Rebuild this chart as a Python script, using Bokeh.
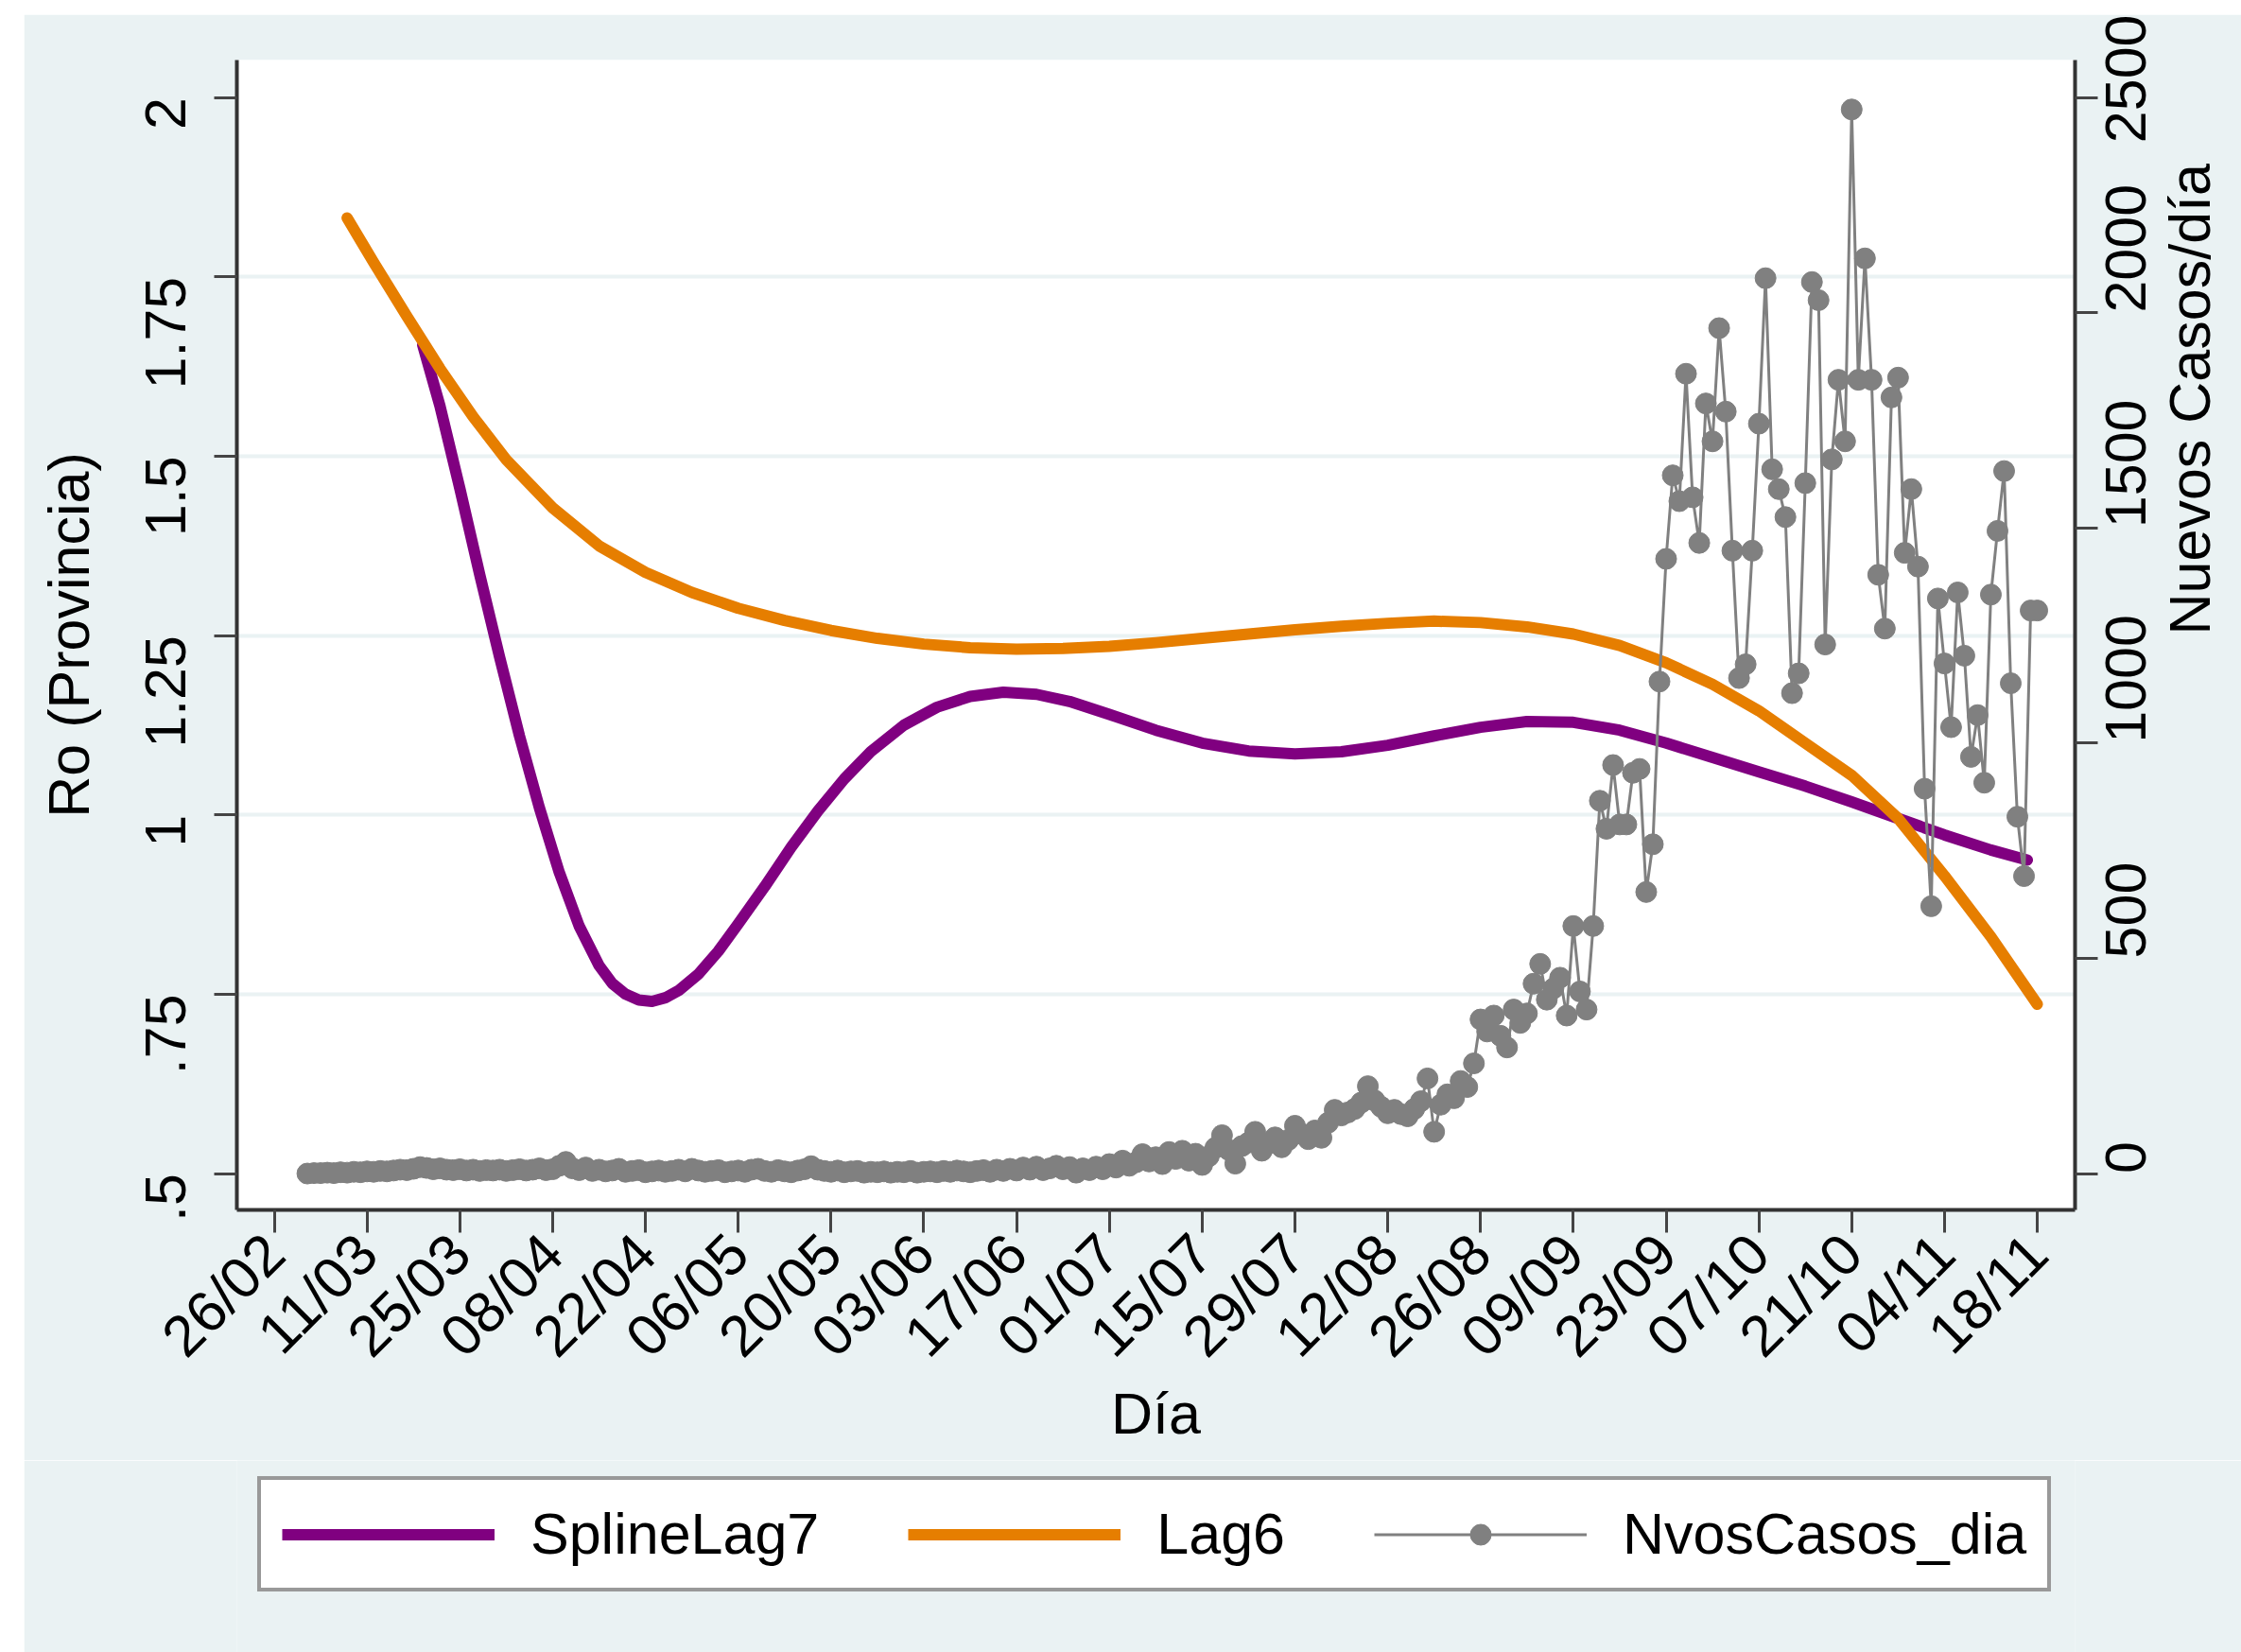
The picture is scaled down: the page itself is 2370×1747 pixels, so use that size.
import math
from bokeh.plotting import figure
from bokeh.models import (Range1d, LinearAxis, FixedTicker, Legend, LegendItem)
from bokeh.layouts import column
from bokeh.embed import file_html
from bokeh.resources import INLINE

# ---------------- data ----------------
# x axis: days since 26/02 (2020)
tick_days = [0, 14, 28, 42, 56, 70, 84, 98, 112, 126, 140, 154, 168, 182, 196, 210, 224, 238, 252, 266]
tick_labels = ["26/02", "11/03", "25/03", "08/04", "22/04", "06/05", "20/05", "03/06", "17/06", "01/07",
               "15/07", "29/07", "12/08", "26/08", "09/09", "23/09", "07/10", "21/10", "04/11", "18/11"]

r_ticks = [0.5, 0.75, 1.0, 1.25, 1.5, 1.75, 2.0]
r_tick_labels = [".5", ".75", "1", "1.25", "1.5", "1.75", "2"]
r_grid = [0.75, 1.0, 1.25, 1.5, 1.75]
casos_ticks = [0, 500, 1000, 1500, 2000, 2500]
casos_tick_labels = ["0", "500", "1000", "1500", "2000", "2500"]
right_title = "Nuevos Casos/día"

spline_days = [22.4, 25, 28, 31, 34, 37, 40, 43, 46, 49, 51, 53, 55, 57, 59, 61, 64, 67, 70, 74, 78, 82,
               86, 90, 95, 100, 105, 110, 115, 120, 126, 133, 140, 147, 154, 161, 168, 175, 182, 189,
               196, 203, 210, 217, 224, 231, 238, 245, 252, 259, 264.5]
spline_lag7 = [1.655, 1.570, 1.455, 1.335, 1.220, 1.110, 1.010, 0.920, 0.845, 0.790, 0.765, 0.750, 0.742,
               0.740, 0.745, 0.755, 0.778, 0.810, 0.848, 0.900, 0.955, 1.005, 1.050, 1.088, 1.125, 1.150,
               1.165, 1.171, 1.168, 1.158, 1.140, 1.118, 1.100, 1.089, 1.085, 1.088, 1.097, 1.110, 1.122,
               1.130, 1.129, 1.118, 1.100, 1.080, 1.060, 1.040, 1.018, 0.995, 0.972, 0.951, 0.937]

lag6_days = [11, 15, 20, 25, 30, 35, 42, 49, 56, 63, 70, 77, 84, 91, 98, 105, 112, 119, 126, 133, 140,
             147, 154, 161, 168, 175, 182, 189, 196, 203, 210, 217, 224, 231, 238, 245, 252, 259, 266]
lag6 = [1.832, 1.770, 1.695, 1.622, 1.555, 1.495, 1.428, 1.375, 1.338, 1.310, 1.288, 1.271, 1.257, 1.246,
        1.238, 1.233, 1.231, 1.232, 1.235, 1.240, 1.246, 1.252, 1.258, 1.263, 1.267, 1.270, 1.268, 1.262,
        1.252, 1.236, 1.212, 1.182, 1.145, 1.100, 1.055, 0.995, 0.915, 0.830, 0.736]

casos_first_day = 5
nvos_casos = [
    0, 1, 1, 2, 1, 3, 2, 4, 3, 5,
    4, 6, 5, 7, 9, 8, 11, 15, 13, 10,
    12, 9, 8, 10, 7, 9, 6, 8, 7, 9,
    6, 8, 10, 7, 9, 12, 8, 10, 18, 27,
    12, 8, 14, 6, 9, 5, 7, 11, 4, 6,
    8, 3, 5, 7, 4, 6, 9, 5, 11, 7,
    4, 6, 8, 3, 5, 7, 4, 9, 11, 6,
    4, 8, 5, 3, 7, 10, 17, 9, 6, 4,
    7, 3, 5, 6, 2, 4, 3, 5, 2, 4,
    3, 6, 2, 4, 5, 3, 6, 4, 7, 5,
    3, 6, 8, 4, 9, 6, 11, 7, 14, 9,
    16, 8, 12, 18, 10, 15, 2, 12, 8, 16,
    10, 22, 14, 30, 18, 26, 45, 28, 38, 22,
    50, 34, 53, 30, 46, 20, 40, 60, 89, 55,
    23, 64, 72, 97, 53, 70, 84, 61, 78, 111,
    92, 80, 100, 83, 118, 148, 135, 142, 150, 165,
    203, 170, 155, 140, 148, 138, 133, 150, 168, 221,
    97, 160, 184, 175, 215, 201, 256, 358, 330, 367,
    320, 293, 381, 350, 372, 441, 487, 404, 430, 455,
    367, 575, 423, 381, 575, 866, 801, 949, 811, 811,
    931, 940, 654, 765, 1143, 1428, 1622, 1562, 1858, 1571,
    1465, 1789, 1701, 1964, 1770, 1447, 1151, 1183, 1447, 1742,
    2080, 1636, 1590, 1525, 1116, 1162, 1604, 2071, 2029, 1229,
    1659, 1844, 1701, 2472, 1844, 2126, 1844, 1391, 1266, 1803,
    1849, 1442, 1590, 1410, 894, 621, 1336, 1185, 1037, 1350,
    1203, 968, 1065, 908, 1345, 1493, 1632, 1139, 829, 691,
    1308, 1308,
]
casos_days = [casos_first_day + i for i in range(len(nvos_casos))]

# ---------------- styles ----------------
FONT = "Liberation Sans"
BG = "#EAF2F3"
PURPLE = "#800080"
ORANGE = "#E67E00"
GRAY = "#808080"
FS = "61px"

p = figure(frame_width=1944, frame_height=1216,
           x_range=Range1d(-5.64, 271.7), y_range=Range1d(0.4493, 2.0521),
           output_backend="svg", toolbar_location=None,
           min_border_left=225, min_border_right=0, min_border_top=48, min_border_bottom=265,
           background_fill_color="white", border_fill_color=BG, outline_line_color=None)
p.extra_y_ranges = {"casos": Range1d(-84.5, 2586.8)}


def style_axis(ax):
    ax.axis_line_color = "#333333"
    ax.axis_line_width = 4
    ax.major_tick_line_color = "#444444"
    ax.major_tick_line_width = 3
    ax.major_tick_out = 24
    ax.major_tick_in = 0
    ax.minor_tick_line_color = None
    ax.major_label_text_font = FONT
    ax.major_label_text_font_size = FS
    ax.major_label_text_color = "black"
    ax.axis_label_text_font = FONT
    ax.axis_label_text_font_size = FS
    ax.axis_label_text_font_style = "normal"
    ax.axis_label_text_color = "black"


xa = p.xaxis[0]
style_axis(xa)
xa.ticker = FixedTicker(ticks=tick_days)
xa.major_label_overrides = {d: l for d, l in zip(tick_days, tick_labels)}
xa.major_label_orientation = math.pi / 4
xa.major_label_standoff = 12
xa.axis_label = "Día"
xa.axis_label_standoff = -14

ya = p.yaxis[0]
style_axis(ya)
ya.ticker = FixedTicker(ticks=r_ticks)
ya.major_label_overrides = {v: l for v, l in zip(r_ticks, r_tick_labels)}
ya.major_label_orientation = math.pi / 2
ya.major_label_standoff = 51
ya.axis_label = "Ro (Provincia)"
ya.axis_label_standoff = 24

ra = LinearAxis(y_range_name="casos", ticker=FixedTicker(ticks=casos_ticks))
style_axis(ra)
ra.major_label_overrides = {v: l for v, l in zip(casos_ticks, casos_tick_labels)}
ra.major_label_orientation = math.pi / 2
ra.major_label_standoff = 30
p.add_layout(ra, "right")

# right-hand title, written as a single rotated label of an outer right axis
title_pos = 1.2507
rt = LinearAxis(ticker=FixedTicker(ticks=[title_pos]))
style_axis(rt)
rt.major_label_overrides = {title_pos: right_title}
rt.major_label_orientation = math.pi / 2
rt.axis_line_color = None
rt.major_tick_line_color = None
rt.major_tick_out = 0
rt.major_label_standoff = 22
p.add_layout(rt, "right")

p.xgrid.grid_line_color = None
p.ygrid.ticker = FixedTicker(ticks=r_grid)
p.ygrid.grid_line_color = BG
p.ygrid.grid_line_width = 4

# ---------------- glyphs ----------------
r_spline = p.line(spline_days, spline_lag7, line_color=PURPLE, line_width=12,
                  line_join="round", line_cap="round")
r_lag6 = p.line(lag6_days, lag6, line_color=ORANGE, line_width=12,
                line_join="round", line_cap="round")
r_cl = p.line(casos_days, nvos_casos, line_color=GRAY, line_width=3, y_range_name="casos")
r_cp = p.scatter(casos_days, nvos_casos, marker="circle", size=22, fill_color=GRAY,
                 line_color=GRAY, y_range_name="casos")

# ---------------- legend strip below the chart ----------------
# (same series styles; the key glyphs sit outside this strip's visible range)
leg = figure(frame_width=1944, frame_height=203, x_range=Range1d(0, 1), y_range=Range1d(0, 1),
             output_backend="svg", toolbar_location=None,
             x_axis_location=None, y_axis_location=None,
             min_border_left=225, min_border_right=300, min_border_top=0, min_border_bottom=0,
             background_fill_color=BG, border_fill_color=BG, outline_line_color=None)
leg.grid.visible = False
off = [-5, -4]
k_spline = leg.line(off, off, line_color=PURPLE, line_width=12)
k_lag6 = leg.line(off, off, line_color=ORANGE, line_width=12)
k_cl = leg.line(off, off, line_color=GRAY, line_width=3)
k_cp = leg.scatter(off, off, marker="circle", size=22, fill_color=GRAY, line_color=GRAY)

legend = Legend(items=[LegendItem(label="SplineLag7", renderers=[k_spline]),
                       LegendItem(label="Lag6", renderers=[k_lag6]),
                       LegendItem(label="NvosCasos_dia", renderers=[k_cl, k_cp])],
                location=(22, 64), orientation="horizontal",
                border_line_color="#333333", border_line_width=4,
                background_fill_color="white", background_fill_alpha=1.0,
                label_text_font=FONT, label_text_font_size=FS, label_text_color="black",
                glyph_width=225, glyph_height=55, label_standoff=38, spacing=94,
                padding=22, margin=0)
leg.add_layout(legend)

page = column(p, leg, spacing=0, margin=(15, 0, 0, 25))

open("out.html", "w").write(file_html(page, INLINE))
